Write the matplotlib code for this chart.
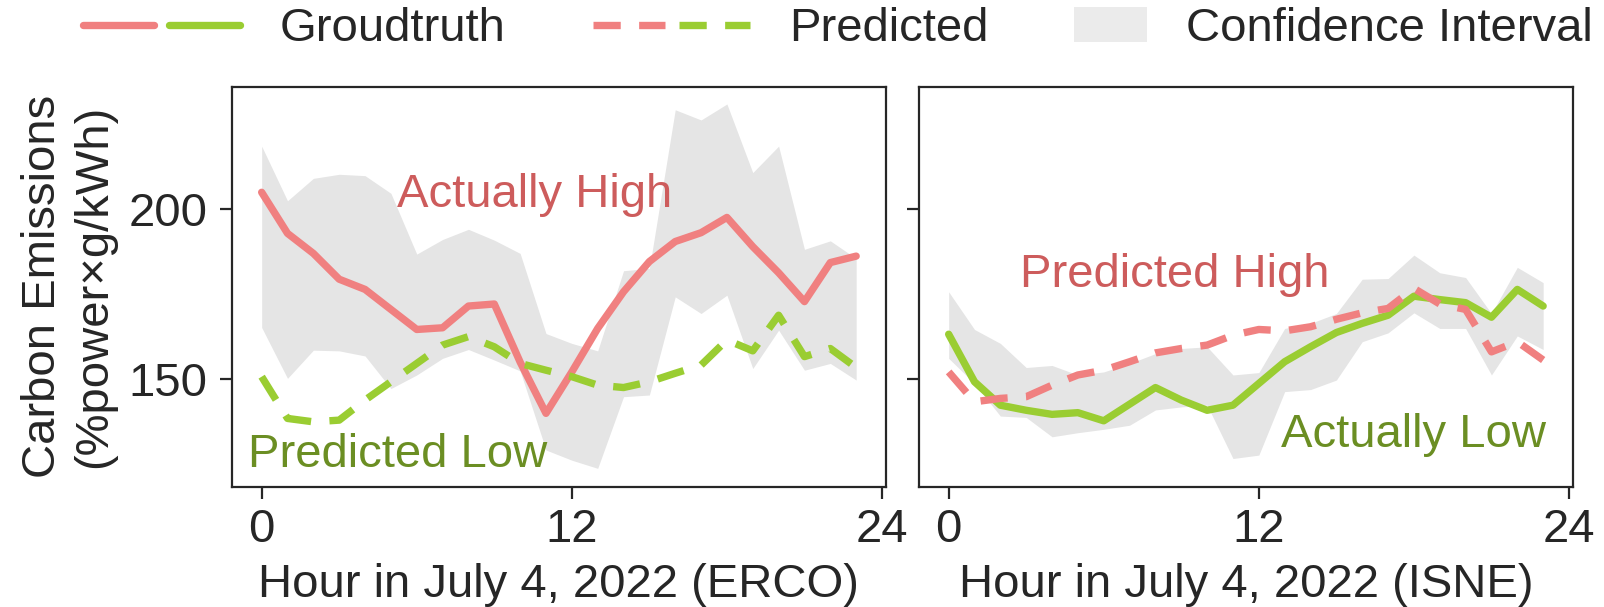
import matplotlib
matplotlib.use('Agg')
import matplotlib.pyplot as plt
from matplotlib.lines import Line2D
from matplotlib.patches import Patch
from matplotlib.legend_handler import HandlerTuple

hours = list(range(24))

# ERCO, July 4 2022
erco_truth = [205.0, 192.9, 187.0, 179.4, 176.4, 170.5, 164.6, 165.1, 171.5, 172.1, 155.0, 139.9,
              152.1, 164.9, 175.7, 184.6, 190.5, 193.1, 197.6, 189.0, 181.3, 172.8, 184.3, 186.2]
erco_pred = [150.7, 138.4, 137.4, 137.9, 143.8, 149.2, 154.6, 160.0, 162.5, 159.5, 154.6, 152.6,
             150.7, 148.2, 147.5, 149.2, 151.7, 154.1, 161.5, 158.3, 168.8, 156.6, 159.0, 153.4]
erco_upper = [218.6, 202.5, 209.1, 210.3, 209.9, 204.7, 186.8, 191.1, 194.1, 190.9, 187.0, 163.4,
              160.5, 158.3, 181.9, 182.6, 229.3, 226.3, 231.0, 210.8, 218.6, 188.2, 190.7, 185.5]
erco_lower = [165.2, 150.2, 158.5, 158.3, 156.8, 147.2, 151.2, 156.1, 158.7, 155.6, 152.4, 129.1,
              126.1, 123.7, 144.8, 145.3, 174.2, 169.3, 174.7, 153.1, 164.4, 152.6, 154.6, 149.7]

# ISNE, July 4 2022
isne_truth = [163.2, 149.2, 142.3, 140.8, 139.6, 140.1, 137.7, 142.6, 147.5, 143.8, 140.8, 142.3,
              148.7, 155.1, 159.5, 163.7, 166.4, 168.8, 174.4, 173.4, 172.5, 168.2, 176.4, 171.5]
isne_pred = [152.1, 143.3, 144.3, 144.8, 148.2, 151.2, 152.6, 155.1, 157.7, 159.0, 160.0, 162.9,
             164.6, 164.2, 165.4, 167.6, 169.5, 170.8, 176.7, 172.1, 170.5, 158.0, 161.0, 155.6]
isne_upper = [175.7, 164.6, 160.5, 153.4, 154.0, 151.2, 152.1, 154.6, 157.5, 159.0, 159.5, 151.2,
              151.9, 164.9, 166.4, 169.3, 179.4, 179.6, 186.5, 181.3, 179.9, 169.3, 182.9, 178.4]
isne_lower = [156.1, 148.7, 139.1, 138.7, 133.0, 134.2, 135.2, 136.4, 140.9, 141.8, 142.3, 126.6,
              127.6, 146.3, 146.9, 149.7, 161.0, 163.6, 169.5, 164.9, 164.9, 151.2, 162.7, 158.7]

red = '#F08080'
green = '#9ACD32'
red_text = '#CD5C5C'
green_text = '#6B8E23'
band = '#e5e5e5'
dark = '#262626'
fs = 34

plt.rcParams['font.family'] = ['Liberation Sans', 'DejaVu Sans']
plt.rcParams['font.size'] = fs
plt.rcParams['text.color'] = dark
plt.rcParams['axes.labelcolor'] = dark
plt.rcParams['xtick.color'] = dark
plt.rcParams['ytick.color'] = dark

fig = plt.figure(figsize=(16.04, 6.07), dpi=100)
ax1 = fig.add_axes([0.1446, 0.1982, 0.4077, 0.659])
ax2 = fig.add_axes([0.5729, 0.1982, 0.4077, 0.659], sharey=ax1)

lw = 5.3
dash = (0, (3.7, 2.5))

ax1.fill_between(hours, erco_lower, erco_upper, color=band, lw=0)
ax1.plot(hours, erco_truth, color=red, lw=lw, solid_capstyle='round')
ax1.plot(hours, erco_pred, color=green, lw=lw, ls=dash)

ax2.fill_between(hours, isne_lower, isne_upper, color=band, lw=0)
ax2.plot(hours, isne_truth, color=green, lw=lw, solid_capstyle='round')
ax2.plot(hours, isne_pred, color=red, lw=lw, ls=dash)

ax1.text(5.24, 200.8, 'Actually High', color=red_text)
ax1.text(-0.52, 124.2, 'Predicted Low', color=green_text)
ax2.text(2.75, 177.2, 'Predicted High', color=red_text)
ax2.text(12.84, 130.05, 'Actually Low', color=green_text)

for ax, region in [(ax1, 'ERCO'), (ax2, 'ISNE')]:
    ax.set_xlim(-1.15, 24.15)
    ax.set_xticks([0, 12, 24])
    ax.set_xlabel(f'Hour in July 4, 2022 ({region})', labelpad=8)
    for s in ax.spines.values():
        s.set_linewidth(1.6)
        s.set_color(dark)
    ax.tick_params(axis='both', length=8.5, width=1.6)
    ax.tick_params(axis='x', pad=7)
    ax.tick_params(axis='y', pad=9)

ax1.set_ylim(118.3, 236.1)
ax1.set_yticks([150, 200])
ax1.set_ylabel('Carbon Emissions\n(%power×g/kWh)', labelpad=9)
ax2.tick_params(labelleft=False)

# legend: three separate pieces so the handles can have different widths
leg_kw = dict(loc='center left', frameon=False, borderpad=0, borderaxespad=0,
              fontsize=fs, handletextpad=0.83)
truth_handle = (Line2D([], [], color=red, lw=lw, solid_capstyle='round'),
                Line2D([], [], color=green, lw=lw, solid_capstyle='round'))
pred_handle = (Line2D([], [], color=red, lw=lw, ls=dash),
               Line2D([], [], color=green, lw=lw, ls=dash))
tuple_map = {tuple: HandlerTuple(ndivide=None, pad=0.3)}

fig.legend([truth_handle], ['Groudtruth'], bbox_to_anchor=(0.0517, 0.952),
           handlelength=3.33, handler_map=tuple_map, **leg_kw)
fig.legend([pred_handle], ['Predicted'], bbox_to_anchor=(0.3697, 0.952),
           handlelength=3.33, handler_map=tuple_map, **leg_kw)
fig.legend([Patch(color='#ebebeb', lw=0)], ['Confidence Interval'],
           bbox_to_anchor=(0.6696, 0.952), handlelength=1.55, handleheight=0.76, **leg_kw)

fig.savefig('out.png', dpi=100)
